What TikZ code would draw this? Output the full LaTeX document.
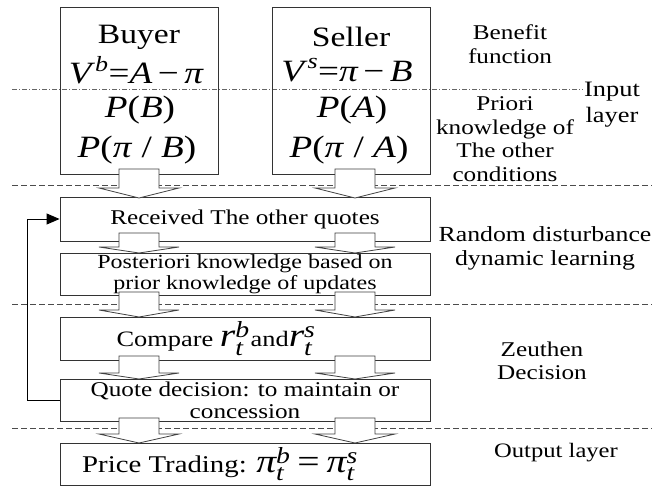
\documentclass[tikz,border=0pt]{standalone}
\usepackage{amsmath}
\usepackage{fontspec}
\setmainfont{Liberation Serif}[FakeStretch=1.2]
\usetikzlibrary{arrows.meta}
\newcommand\blockarrow[4]{%
  \draw[barr] (#1-20,#2) -- (#1-20,#3) -- (#1-40,#3) -- (#1,#4) -- (#1+40,#3) -- (#1+20,#3) -- (#1+20,#2) -- cycle;}
\tikzset{
  box/.style={draw=black!80, line width=0.9pt, rectangle, inner sep=0pt, anchor=center},
  barr/.style={draw=black!75, fill=white, line width=0.8pt, line join=miter},
  sepline/.style={draw=black!70, line width=0.8pt, dash pattern=on 6pt off 3pt},
  sepdd/.style={draw=black!60, line width=0.8pt, dash pattern=on 5pt off 2pt on 1pt off 2pt},
  lab/.style={align=center, inner sep=0pt, font=\fontsize{21}{23.5}\selectfont},
  big/.style={inner sep=0pt, font=\fontsize{31}{33}\selectfont},
  hdr/.style={inner sep=0pt, font=\fontsize{28}{30}\selectfont},
  fb/.style={draw=black, line width=0.9pt, -{Triangle[length=13pt,width=11pt]}},
}
\begin{document}
\begin{tikzpicture}[x=1pt,y=-1pt]
\fill[white] (0,0) rectangle (652,486);
\useasboundingbox (0,0) rectangle (652,486);
% layer separators
\draw[sepdd] (12,89) -- (583,89);
\draw[sepline] (12,185) -- (652,185);
\draw[sepline] (12,304) -- (652,304);
\draw[sepline] (12,428) -- (652,428);
% boxes
\node[box, minimum width=158, minimum height=167] (buyer) at (139,90.5) {};
\node[box, minimum width=158, minimum height=167] (seller) at (351,90.5) {};
\node[box, minimum width=370, minimum height=44, font=\fontsize{21}{23}\selectfont] (recv) at (245,219) {Received The other quotes};
\node[box, minimum width=370, minimum height=42, align=center, font=\fontsize{20}{21.5}\selectfont] (post) at (245,274) {Posteriori knowledge based on\\prior knowledge of updates};
\node[box, minimum width=370, minimum height=43, font=\fontsize{22}{23}\selectfont] (comp) at (245,338.5) {Compare {\fontsize{33}{33}\selectfont$\textit{r}^{\textit{b}}_{\textit{t}}$}\kern1pt and{\fontsize{33}{33}\selectfont$\textit{r}^{\textit{s}}_{\textit{t}}$}\hspace*{58pt}};
\node[box, minimum width=370, minimum height=42, align=center, font=\fontsize{21}{22}\selectfont] (quote) at (245,400) {Quote decision: to maintain or\\concession};
\node[box, minimum width=370, minimum height=42, font=\fontsize{24}{26}\selectfont] (price) at (245,464) {Price Trading: {\fontsize{33}{34}\selectfont$\textit{π}^{\textit{b}}_{\textit{t}}\mathrel{\text{=}}\textit{π}^{\textit{s}}_{\textit{t}}$}\hspace*{50pt}};
% block arrows
\blockarrow{139}{169}{188}{198}
\blockarrow{355}{169}{188}{198}
\blockarrow{139}{233}{247}{253}
\blockarrow{355}{233}{247}{253}
\blockarrow{139}{292}{310}{317}
\blockarrow{355}{292}{310}{317}
\blockarrow{139}{356}{373}{379}
\blockarrow{355}{356}{373}{379}
\blockarrow{139}{418}{434}{443}
\blockarrow{355}{418}{434}{443}
% feedback
\draw[fb] (quote.west) -- ++(-32,0) |- (recv.west);
% buyer / seller texts
\node[hdr] (b1) at (139,37) {Buyer};
\node[big] (b2) at (136,70) {$\textit{V}^{\,\textit{b}}\text{=}\textit{A}\mathbin{\text{−}}\textit{π}$};
\node[big] (b3) at (140,110) {\textit{P}(\textit{B})};
\node[big] (b4) at (137,150) {\textit{P}(\textit{π} / \textit{B})};
\node[hdr] (s1) at (351,37) {Seller};
\node[big] (s2) at (347,70) {$\textit{V}^{\,\textit{s}}\text{=}\textit{π}\mathbin{\text{−}}\textit{B}$};
\node[big] (s3) at (352,110) {\textit{P}(\textit{A})};
\node[big] (s4) at (349,150) {\textit{P}(\textit{π} / \textit{A})};
% right labels
\node[lab] (l1) at (510,44) {Benefit\\function};
\node[lab, font=\fontsize{22}{26}\selectfont] (l2) at (612,105) {Input\\layer};
\node[lab] (l3) at (505,139) {Priori\\knowledge of\\The other\\conditions};
\node[lab, font=\fontsize{21.5}{24}\selectfont] (l4) at (545,248) {Random disturbance\\dynamic learning};
\node[lab] (l5) at (542,361) {Zeuthen\\Decision};
\node[lab, font=\fontsize{20.5}{22}\selectfont] (l6) at (556,453) {Output layer};
\end{tikzpicture}
\end{document}
